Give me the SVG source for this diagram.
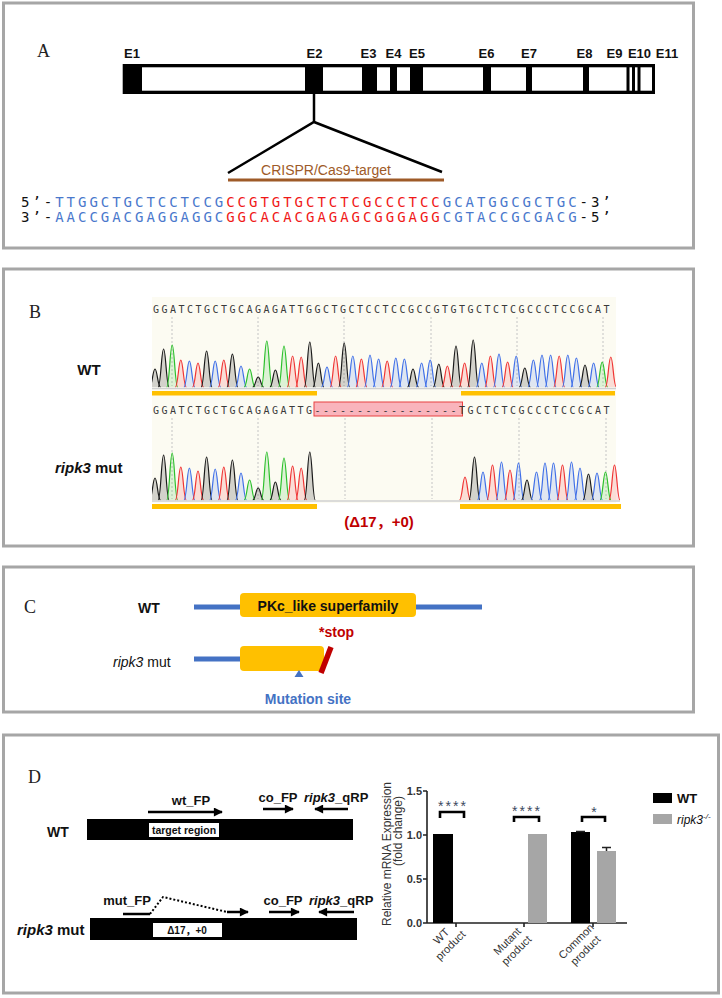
<svg xmlns="http://www.w3.org/2000/svg" width="722" height="998" viewBox="0 0 722 998">
<style>
text{font-family:"Liberation Sans",Arial,"Noto Sans CJK SC",sans-serif;fill:#111}
.frame{fill:none;stroke:#A6A6A6;stroke-width:3}
.pl{font-family:"Liberation Serif","Times New Roman",serif;font-size:18px;fill:#222}
.ex{font-size:13px;font-weight:bold;text-anchor:middle}
.seqA{font-family:"DejaVu Sans Mono",monospace;font-size:14px;letter-spacing:2.97px}
.bl{fill:#4A78CC}.rd{fill:#F01818}
.seqB{font-family:"DejaVu Sans Mono",monospace;font-size:10px;letter-spacing:2.48px;fill:#3a3a3a}
.grid{stroke:#C4C4C4;stroke-width:1;stroke-dasharray:2,2}
.a{stroke:#2CC02C;fill:rgba(44,192,44,.15)}
.c{stroke:#3F6FE8;fill:rgba(63,111,232,.15)}
.g{stroke:#1a1a1a;fill:rgba(0,0,0,.16)}
.t{stroke:#F03434;fill:rgba(240,52,52,.15)}
.trace use{stroke-width:1.2}
.bk{font-weight:bold}
.arr{stroke:#000;stroke-width:2.5;fill:none}
.ax{font-size:11px;font-weight:bold;fill:#333}
.lab13{font-size:13px;font-weight:bold}
</style>
<defs>
<path id="pk" d="M-5.5,0 C-2.8,0 -2.2,-1 0,-1 C2.2,-1 2.8,0 5.5,0" vector-effect="non-scaling-stroke"/>
<marker id="ah" viewBox="0 0 10 10" refX="9" refY="5" markerWidth="4" markerHeight="3.6" orient="auto" markerUnits="strokeWidth">
<path d="M0,0 L10,5 L0,10 z" fill="#000"/>
</marker>
<clipPath id="clipWT"><rect x="152" y="297" width="464" height="92"/></clipPath>
<clipPath id="clipMut"><rect x="152" y="415" width="468" height="86"/></clipPath>
</defs>

<g id="panelA">
<rect class="frame" x="3.5" y="3" width="690" height="245"/>
<text class="pl" x="37" y="57">A</text>
<g id="gene">
<rect x="122.7" y="64" width="532.3" height="30" fill="#000"/>
<g fill="#fff">
<rect x="142" y="67.3" width="163" height="23.4"/>
<rect x="323" y="67.3" width="39" height="23.4"/>
<rect x="377" y="67.3" width="13" height="23.4"/>
<rect x="397" y="67.3" width="13" height="23.4"/>
<rect x="423" y="67.3" width="60" height="23.4"/>
<rect x="491" y="67.3" width="35" height="23.4"/>
<rect x="532" y="67.3" width="51" height="23.4"/>
<rect x="589" y="67.3" width="37.5" height="23.4"/>
<rect x="629.5" y="67.3" width="2.5" height="23.4"/>
<rect x="635" y="67.3" width="2.5" height="23.4"/>
<rect x="640.5" y="67.3" width="11.5" height="23.4"/>
</g>
<text class="ex" x="132" y="58">E1</text>
<text class="ex" x="314.5" y="58">E2</text>
<text class="ex" x="368.5" y="58">E3</text>
<text class="ex" x="393.5" y="58">E4</text>
<text class="ex" x="417" y="58">E5</text>
<text class="ex" x="486.5" y="58">E6</text>
<text class="ex" x="529" y="58">E7</text>
<text class="ex" x="584.5" y="58">E8</text>
<text class="ex" x="614.5" y="58">E9</text>
<text class="ex" x="639.5" y="58">E10</text>
<text class="ex" x="667" y="58">E11</text>
</g>
<g id="zoomlines" fill="none" stroke="#000" stroke-width="2.5">
<path d="M314,94 V122"/>
<path d="M228,173 L314,122 L442,172"/>
</g>
<g id="crispr">
<path d="M228,180 H444" stroke="#9E5A28" stroke-width="3"/>
<text x="326" y="175" font-size="14" text-anchor="middle" style="fill:#9E5A28">CRISPR/Cas9-target</text>
</g>
<text class="seqA" x="21" y="207">5’-<tspan class="bl">TTGGCTGCTCCTCCG</tspan><tspan class="rd">CCGTGTGCTCTCGCCCTCC</tspan><tspan class="bl">GCATGGCGCTGC</tspan>-3’</text>
<text class="seqA" x="21" y="222">3’-<tspan class="bl">AACCGACGAGGAGGC</tspan><tspan class="rd">GGCACACGAGAGCGGGAGG</tspan><tspan class="bl">CGTACCGCGACG</tspan>-5’</text>
</g>

<g id="panelB">
<rect class="frame" x="3.5" y="269" width="690" height="277"/>
<text class="pl" x="29" y="318">B</text>
<rect x="152" y="297" width="464" height="206" fill="#FCFBF2"/>
<text class="seqB" x="153" y="313">GGATCTGCTGCAGAGATTGGCTGCTCCTCCGCCGTGTGCTCTCGCCCTCCGCAT</text>
<g class="grid">
<path d="M172,317 V386 M258,317 V386 M344,317 V386 M431,317 V386 M517,317 V386 M603,317 V386"/>
<path d="M172,418 V499 M258,418 V499 M345,418 V499 M432,418 V499 M519,418 V499 M606,418 V499"/>
</g>
<text class="bk" x="89" y="375" font-size="15" text-anchor="middle">WT</text>
<g id="wt-trace" class="trace" clip-path="url(#clipWT)">
<use href="#pk" class="g" transform="translate(155,387) scale(1,18)"/>
<use href="#pk" class="g" transform="translate(163.6,387) scale(1,38)"/>
<use href="#pk" class="a" transform="translate(172.2,387) scale(1,42)"/>
<use href="#pk" class="t" transform="translate(180.8,387) scale(1,27)"/>
<use href="#pk" class="c" transform="translate(189.4,387) scale(1,26)"/>
<use href="#pk" class="t" transform="translate(198,387) scale(1,24)"/>
<use href="#pk" class="g" transform="translate(206.6,387) scale(1,36)"/>
<use href="#pk" class="c" transform="translate(215.2,387) scale(1,26)"/>
<use href="#pk" class="t" transform="translate(223.8,387) scale(1,27)"/>
<use href="#pk" class="g" transform="translate(232.4,387) scale(1,33)"/>
<use href="#pk" class="c" transform="translate(241,387) scale(1,21)"/>
<use href="#pk" class="a" transform="translate(249.6,387) scale(1,18)"/>
<use href="#pk" class="g" transform="translate(258.2,387) scale(1,10)"/>
<use href="#pk" class="a" transform="translate(266.8,387) scale(1,46)"/>
<use href="#pk" class="g" transform="translate(275.4,387) scale(1,17)"/>
<use href="#pk" class="a" transform="translate(284,387) scale(1,41)"/>
<use href="#pk" class="t" transform="translate(292.6,387) scale(1,31)"/>
<use href="#pk" class="t" transform="translate(301.2,387) scale(1,30)"/>
<use href="#pk" class="g" transform="translate(309.8,387) scale(1,45)"/>
<use href="#pk" class="g" transform="translate(318.4,387) scale(1,24)"/>
<use href="#pk" class="c" transform="translate(327,387) scale(1,20)"/>
<use href="#pk" class="t" transform="translate(335.6,387) scale(1,31)"/>
<use href="#pk" class="g" transform="translate(344.2,387) scale(1,44)"/>
<use href="#pk" class="c" transform="translate(352.8,387) scale(1,31)"/>
<use href="#pk" class="t" transform="translate(361.4,387) scale(1,28)"/>
<use href="#pk" class="c" transform="translate(370,387) scale(1,32)"/>
<use href="#pk" class="c" transform="translate(378.6,387) scale(1,28)"/>
<use href="#pk" class="t" transform="translate(387.2,387) scale(1,26)"/>
<use href="#pk" class="c" transform="translate(395.8,387) scale(1,29)"/>
<use href="#pk" class="c" transform="translate(404.4,387) scale(1,28)"/>
<use href="#pk" class="g" transform="translate(413,387) scale(1,18)"/>
<use href="#pk" class="c" transform="translate(421.6,387) scale(1,24)"/>
<use href="#pk" class="c" transform="translate(430.2,387) scale(1,27)"/>
<use href="#pk" class="g" transform="translate(438.8,387) scale(1,23)"/>
<use href="#pk" class="t" transform="translate(447.4,387) scale(1,21)"/>
<use href="#pk" class="g" transform="translate(456,387) scale(1,41)"/>
<use href="#pk" class="t" transform="translate(464.6,387) scale(1,24)"/>
<use href="#pk" class="g" transform="translate(473.2,387) scale(1,47)"/>
<use href="#pk" class="c" transform="translate(481.8,387) scale(1,24)"/>
<use href="#pk" class="t" transform="translate(490.4,387) scale(1,31)"/>
<use href="#pk" class="c" transform="translate(499,387) scale(1,33)"/>
<use href="#pk" class="t" transform="translate(507.6,387) scale(1,25)"/>
<use href="#pk" class="c" transform="translate(516.2,387) scale(1,31)"/>
<use href="#pk" class="g" transform="translate(524.8,387) scale(1,19)"/>
<use href="#pk" class="c" transform="translate(533.4,387) scale(1,27)"/>
<use href="#pk" class="c" transform="translate(542,387) scale(1,32)"/>
<use href="#pk" class="c" transform="translate(550.6,387) scale(1,32)"/>
<use href="#pk" class="t" transform="translate(559.2,387) scale(1,31)"/>
<use href="#pk" class="c" transform="translate(567.8,387) scale(1,32)"/>
<use href="#pk" class="c" transform="translate(576.4,387) scale(1,29)"/>
<use href="#pk" class="g" transform="translate(585,387) scale(1,22)"/>
<use href="#pk" class="c" transform="translate(593.6,387) scale(1,24)"/>
<use href="#pk" class="a" transform="translate(602.2,387) scale(1,25)"/>
<use href="#pk" class="t" transform="translate(610.8,387) scale(1,30)"/>
</g>
<path d="M152,388.5 H616" stroke="#D0D0D0" stroke-width="1.5"/>
<g fill="#FFC000">
<rect x="152" y="391" width="165" height="4.5"/>
<rect x="461" y="391" width="154" height="4.5"/>
</g>
<rect x="314" y="402" width="148.5" height="14" fill="#F9B4BC" stroke="#E84040" stroke-width="1"/>
<text class="seqB" x="153" y="414">GGATCTGCTGCAGAGATTG-----------------TGCTCTCGCCCTCCGCAT</text>
<text class="bk" x="55" y="473" font-size="15"><tspan font-style="italic">ripk3</tspan> mut</text>
<g id="mut-trace" class="trace" clip-path="url(#clipMut)">
<use href="#pk" class="g" transform="translate(155,500) scale(1,22)"/>
<use href="#pk" class="g" transform="translate(163.6,500) scale(1,45)"/>
<use href="#pk" class="a" transform="translate(172.2,500) scale(1,47)"/>
<use href="#pk" class="t" transform="translate(180.8,500) scale(1,33)"/>
<use href="#pk" class="c" transform="translate(189.4,500) scale(1,32)"/>
<use href="#pk" class="t" transform="translate(198,500) scale(1,29)"/>
<use href="#pk" class="g" transform="translate(206.6,500) scale(1,43)"/>
<use href="#pk" class="c" transform="translate(215.2,500) scale(1,31)"/>
<use href="#pk" class="t" transform="translate(223.8,500) scale(1,33)"/>
<use href="#pk" class="g" transform="translate(232.4,500) scale(1,40)"/>
<use href="#pk" class="c" transform="translate(241,500) scale(1,27)"/>
<use href="#pk" class="a" transform="translate(249.6,500) scale(1,20)"/>
<use href="#pk" class="g" transform="translate(258.2,500) scale(1,12)"/>
<use href="#pk" class="a" transform="translate(266.8,500) scale(1,48)"/>
<use href="#pk" class="g" transform="translate(275.4,500) scale(1,18)"/>
<use href="#pk" class="a" transform="translate(284,500) scale(1,42)"/>
<use href="#pk" class="t" transform="translate(292.6,500) scale(1,34)"/>
<use href="#pk" class="t" transform="translate(301.2,500) scale(1,32)"/>
<use href="#pk" class="g" transform="translate(309.8,500) scale(1,48)"/>
<use href="#pk" class="t" transform="translate(465,500) scale(1,23)"/>
<use href="#pk" class="g" transform="translate(474.5,500) scale(1,43)"/>
<use href="#pk" class="c" transform="translate(483,500) scale(1,28)"/>
<use href="#pk" class="t" transform="translate(492.5,500) scale(1,35)"/>
<use href="#pk" class="c" transform="translate(501.5,500) scale(1,38)"/>
<use href="#pk" class="t" transform="translate(510,500) scale(1,30)"/>
<use href="#pk" class="c" transform="translate(518.5,500) scale(1,37)"/>
<use href="#pk" class="g" transform="translate(527,500) scale(1,20)"/>
<use href="#pk" class="c" transform="translate(536.5,500) scale(1,28)"/>
<use href="#pk" class="c" transform="translate(545,500) scale(1,37)"/>
<use href="#pk" class="c" transform="translate(553.5,500) scale(1,37)"/>
<use href="#pk" class="t" transform="translate(562.5,500) scale(1,35)"/>
<use href="#pk" class="c" transform="translate(571.5,500) scale(1,38)"/>
<use href="#pk" class="c" transform="translate(580,500) scale(1,32)"/>
<use href="#pk" class="g" transform="translate(588.5,500) scale(1,26)"/>
<use href="#pk" class="c" transform="translate(597,500) scale(1,27)"/>
<use href="#pk" class="a" transform="translate(605.5,500) scale(1,28)"/>
<use href="#pk" class="t" transform="translate(614.5,500) scale(1,35)"/>
</g>
<path d="M152,501 H620" stroke="#D0D0D0" stroke-width="1.5"/>
<g fill="#FFC000">
<rect x="152" y="504" width="165" height="5"/>
<rect x="460" y="504" width="161" height="5"/>
</g>
<text class="bk" x="379" y="527" font-size="15" text-anchor="middle" style="fill:#C00000">(Δ17，+0)</text>
</g>

<g id="panelC">
<rect class="frame" x="3.5" y="567" width="690" height="145"/>
<text class="pl" x="24" y="613">C</text>
<text class="bk" x="138" y="613" font-size="14">WT</text>
<path d="M194,607 H482" stroke="#4472C4" stroke-width="5"/>
<g id="pkc-wt">
<rect x="240" y="593" width="176" height="24" rx="4" fill="#FFC000"/>
<text class="bk" x="328" y="611" font-size="14" text-anchor="middle">PKc_like superfamily</text>
</g>
<text x="113" y="667" font-size="14"><tspan font-style="italic">ripk3</tspan> mut</text>
<path d="M194,659 H240" stroke="#4472C4" stroke-width="5"/>
<rect id="pkc-mut" x="240" y="646" width="84" height="25" rx="4" fill="#FFC000"/>
<path d="M331,647 L321,673" stroke="#C00000" stroke-width="5.5"/>
<text class="bk" x="319" y="637" font-size="14" style="fill:#C00000">*stop</text>
<polygon points="299,670 294.5,677 303.5,677" fill="#4472C4"/>
<text class="bk" x="308" y="704" font-size="14" text-anchor="middle" style="fill:#4472C4">Mutation site</text>
</g>

<g id="panelD">
<rect class="frame" x="3.5" y="735" width="715" height="258"/>
<text class="pl" x="28" y="783">D</text>
<g id="wt-construct">
<text class="bk" x="47" y="837" font-size="14">WT</text>
<rect x="87" y="819" width="266" height="21" fill="#000"/>
<rect x="149" y="823" width="70" height="14" fill="#fff"/>
<text class="bk" x="184" y="834" font-size="10.5" text-anchor="middle">target region</text>
<text class="lab13" x="191" y="805" text-anchor="middle">wt_FP</text>
<text class="lab13" x="278" y="802" text-anchor="middle">co_FP</text>
<text class="lab13" x="304" y="802"><tspan font-style="italic">ripk3</tspan>_qRP</text>
</g>
<g id="mut-construct">
<text class="bk" x="17" y="935" font-size="15"><tspan font-style="italic">ripk3</tspan> mut</text>
<rect x="90" y="918" width="267" height="22" fill="#000"/>
<rect x="153" y="923" width="69" height="14" fill="#fff"/>
<text class="bk" x="187" y="934" font-size="10" text-anchor="middle">Δ17，+0</text>
<text class="lab13" x="127" y="905" text-anchor="middle">mut_FP</text>
<text class="lab13" x="283" y="905" text-anchor="middle">co_FP</text>
<text class="lab13" x="309" y="905"><tspan font-style="italic">ripk3</tspan>_qRP</text>
</g>
<g id="primers">
<path class="arr" d="M148,812 H222" marker-end="url(#ah)"/>
<path class="arr" d="M263,809 H293" marker-end="url(#ah)"/>
<path class="arr" d="M348,809 H315" marker-end="url(#ah)"/>
<path class="arr" d="M123,914 H150"/>
<path d="M150,914 L163,897 L227,912" fill="none" stroke="#000" stroke-width="2" stroke-dasharray="2,2"/>
<path class="arr" d="M227,912 H248" marker-end="url(#ah)"/>
<path class="arr" d="M269,912 H299" marker-end="url(#ah)"/>
<path class="arr" d="M354,912 H319" marker-end="url(#ah)"/>
</g>
<g id="chart">
<text class="ax" font-size="12" transform="translate(391,854) rotate(-90)" text-anchor="middle" style="font-weight:normal;font-size:12px">Relative mRNA Expression</text>
<text class="ax" transform="translate(402,831) rotate(-90)" text-anchor="middle" style="font-weight:normal;font-size:12px">(fold change)</text>
<text class="ax" x="422" y="795" text-anchor="end">1.5</text>
<text class="ax" x="422" y="839" text-anchor="end">1.0</text>
<text class="ax" x="422" y="883" text-anchor="end">0.5</text>
<text class="ax" x="422" y="927" text-anchor="end">0.0</text>
<path d="M427,791 V923 H627 M423,791 H427 M423,835 H427 M423,879 H427 M423,923 H427 M456,923 V927 M524,923 V927 M593,923 V927" fill="none" stroke="#222" stroke-width="1.6"/>
<rect x="433" y="834" width="20" height="89" fill="#000"/>
<rect x="528" y="834" width="19" height="89" fill="#A6A6A6"/>
<rect x="571" y="832" width="19" height="91" fill="#000"/>
<rect x="597" y="851" width="19" height="72" fill="#A6A6A6"/>
<path d="M576,831.5 H585 M606.5,851 V847.5 M602,847.5 H611" stroke="#222" stroke-width="1.5"/>
<path d="M440,818 V812 H464 V818 M514,822 V817 H539 V822 M582,822 V817 H605 V822" fill="none" stroke="#000" stroke-width="2.6"/>
<text x="453" y="811" font-size="14" text-anchor="middle" letter-spacing="2" style="fill:#3B4A5F">****</text>
<text x="527" y="816" font-size="14" text-anchor="middle" letter-spacing="2" style="fill:#3B4A5F">****</text>
<text x="594" y="817" font-size="14" text-anchor="middle" style="fill:#3B4A5F">*</text>
<g class="ax" style="font-weight:normal">
<g transform="translate(446,941) rotate(-45)"><text class="ax" text-anchor="middle" y="-3" style="font-weight:normal">WT</text><text class="ax" text-anchor="middle" y="10" style="font-weight:normal">product</text></g>
<g transform="translate(512,946) rotate(-45)"><text class="ax" text-anchor="middle" y="-3" style="font-weight:normal">Mutant</text><text class="ax" text-anchor="middle" y="10" style="font-weight:normal">product</text></g>
<g transform="translate(581,946) rotate(-45)"><text class="ax" text-anchor="middle" y="-3" style="font-weight:normal">Common</text><text class="ax" text-anchor="middle" y="10" style="font-weight:normal">product</text></g>
</g>
<g id="legend">
<rect x="653" y="793" width="19" height="10" fill="#000"/>
<text class="bk" x="677" y="803" font-size="13">WT</text>
<rect x="653" y="814" width="19" height="10" fill="#A6A6A6"/>
<text x="677" y="824" font-size="12" font-style="italic">ripk3<tspan font-size="8" dy="-5">-/-</tspan></text>
</g>
</g>
</g>
</svg>
